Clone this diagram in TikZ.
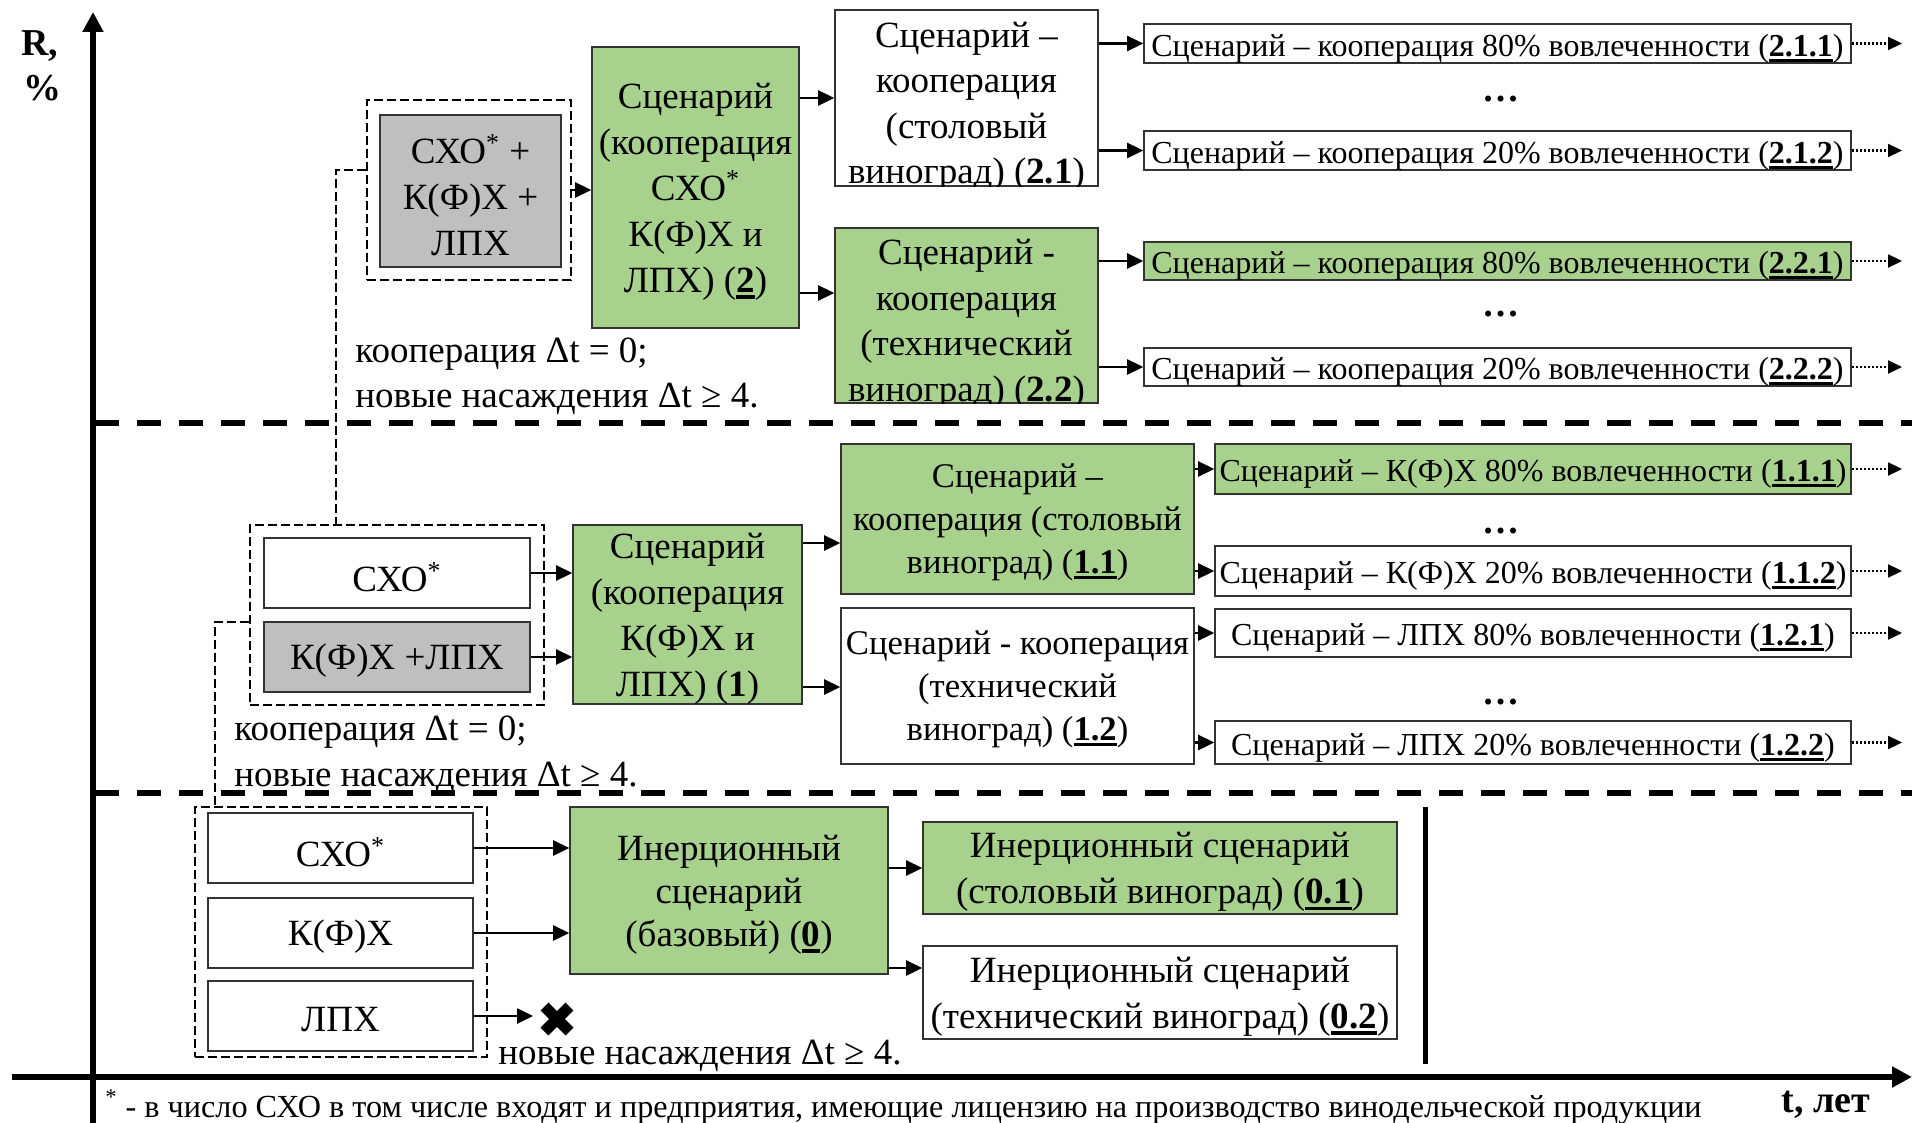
\documentclass[tikz,border=0pt]{standalone}
\usepackage{fontspec}
\setmainfont{Liberation Serif}
\usetikzlibrary{arrows.meta,calc}
\definecolor{gr}{HTML}{A9D18E}
\definecolor{gy}{HTML}{BFBFBF}
\newsavebox\bubox
\newcommand\bu[1]{{\sbox\bubox{\bfseries #1}\rlap{\raisebox{-0.17em}{\rule{\wd\bubox}{0.085em}}}\usebox\bubox}}
\newcommand\bx[6]{\node[#6, inner sep=0pt, minimum width={(#4-#2)*0.5pt}, minimum height={(#5-#3)*0.5pt}] (#1) at ({(#2+#4)/2},{(#3+#5)/2}) {};}
\tikzset{
  box/.style={draw=black!80, line width=0.8pt},
  wbox/.style={box, fill=white},
  gbox/.style={box, fill=gr},
  ybox/.style={box, fill=gy},
  dbox/.style={draw=black, line width=1.1pt, dash pattern=on 4.5pt off 2pt},
  dcon/.style={draw=black, line width=1.1pt, dash pattern=on 4.5pt off 2pt},
  sep/.style={draw=black, line width=3pt, dash pattern=on 12pt off 9pt},
  axis/.style={draw=black, line width=2.6pt, -{Triangle[length=10pt,width=10pt]}},
  arr/.style={draw=black, line width=1.3pt, -{Triangle[length=8pt,width=7.5pt]}},
  darr/.style={draw=black, line width=1.1pt, dash pattern=on 1pt off 1pt, -{Triangle[length=7pt,width=6.5pt]}},
  mtxt/.style={font=\fontsize{18.5}{23}\selectfont, align=center, inner sep=0pt, yshift=-2pt},
  ctxt/.style={font=\fontsize{18.5}{22.75}\selectfont, align=center, inner sep=0pt},
  ntxt/.style={font=\fontsize{17.3}{21.5}\selectfont, align=center, inner sep=0pt, yshift=-1.5pt},
  rtxt/.style={font=\fontsize{16}{19}\selectfont, inner sep=0pt, yshift=-2.5pt},
  atxt/.style={font=\fontsize{18.5}{22.5}\selectfont, align=left, inner sep=0pt, anchor=west, yshift=-2pt},
  btxt/.style={font=\fontsize{19}{21}\selectfont\bfseries, inner sep=0pt, anchor=west},
  dots/.style={font=\fontsize{18.5}{22}\selectfont\bfseries, inner sep=0pt, yshift=-2.5pt},
}
\begin{document}
\begin{tikzpicture}[x=0.5pt,y=-0.5pt]
\useasboundingbox (0,0) rectangle (1912,1123);
% separators
\draw[sep] (95,423) -- (1912,423);
\draw[sep] (95,793) -- (1912,793);
% axes
\draw[axis] (93,1123) -- (93,12);
\draw[axis] (12,1077) -- (1912,1077);
\node[btxt] (Rl) at (21,46) {R,};
\node[btxt] (Pl) at (23,88) {\%};
\node[btxt] (tl) at (1781,1105) {t, лет};
% ---------- top group
\bx{D2}{367}{100}{571}{280}{dbox}
\bx{G2}{380}{115}{561}{267}{ybox}
\node[mtxt] (G2t) at (G2) {СХО\textsuperscript{*} +\\К(Ф)Х +\\ЛПХ};
\bx{B2}{592}{47}{799}{328}{gbox}
\node[mtxt] (B2t) at (B2) {Сценарий\\(кооперация\\СХО\textsuperscript{*}\\К(Ф)Х и\\ЛПХ) (\bu{2})};
\bx{S21}{835}{10}{1098}{186}{wbox}
\begin{scope}
\clip (S21.south west) rectangle (S21.north east);
\node[ctxt] (S21t) at ([yshift=-4.5pt]S21.center) {Сценарий –\\кооперация\\(столовый\\виноград) (\textbf{2.1})};
\end{scope}
\bx{S22}{835}{228}{1098}{403}{gbox}
\begin{scope}
\clip (S22.south west) rectangle (S22.north east);
\node[ctxt] (S22t) at ([yshift=-4.5pt]S22.center) {Сценарий -\\кооперация\\(технический\\виноград) (\textbf{2.2})};
\end{scope}
\bx{R211}{1144}{24}{1851}{63}{wbox}
\node[rtxt] (R211t) at (R211) {Сценарий – кооперация 80\% вовлеченности (\bu{2.1.1})};
\bx{R212}{1144}{131}{1851}{170}{wbox}
\node[rtxt] (R212t) at (R212) {Сценарий – кооперация 20\% вовлеченности (\bu{2.1.2})};
\bx{R221}{1144}{242}{1851}{280}{gbox}
\node[rtxt] (R221t) at (R221) {Сценарий – кооперация 80\% вовлеченности (\bu{2.2.1})};
\bx{R222}{1144}{348}{1851}{386}{wbox}
\node[rtxt] (R222t) at (R222) {Сценарий – кооперация 20\% вовлеченности (\bu{2.2.2})};
\node[dots] (dt1) at (1501,94) {…};
\node[dots] (dt2) at (1501,309) {…};
\node[atxt] (n2) at (355,372) {кооперация Δt = 0;\\новые насаждения Δt ≥ 4.};
% ---------- middle group
\bx{D1}{250}{525}{544}{705}{dbox}
\bx{C1}{264}{538}{530}{608}{wbox}
\node[mtxt] (C1t) at (C1) {СХО\textsuperscript{*}};
\bx{K1}{264}{622}{530}{692}{ybox}
\node[mtxt] (K1t) at (K1) {К(Ф)Х +ЛПХ};
\bx{B1}{573}{525}{802}{704}{gbox}
\node[mtxt] (B1t) at (B1) {Сценарий\\(кооперация\\К(Ф)Х и\\ЛПХ) (\textbf{1})};
\bx{S11}{841}{444}{1194}{594}{gbox}
\node[ntxt] (S11t) at (S11) {Сценарий –\\кооперация (столовый\\виноград) (\bu{1.1})};
\bx{S12}{841}{608}{1194}{764}{wbox}
\node[ntxt] (S12t) at (S12) {Сценарий - кооперация\\(технический\\виноград) (\bu{1.2})};
\bx{R111}{1215}{444}{1851}{494}{gbox}
\node[rtxt] (R111t) at (R111) {Сценарий – К(Ф)Х 80\% вовлеченности (\bu{1.1.1})};
\bx{R112}{1215}{546}{1851}{596}{wbox}
\node[rtxt] (R112t) at (R112) {Сценарий – К(Ф)Х 20\% вовлеченности (\bu{1.1.2})};
\bx{R121}{1215}{609}{1851}{657}{wbox}
\node[rtxt] (R121t) at (R121) {Сценарий – ЛПХ 80\% вовлеченности (\bu{1.2.1})};
\bx{R122}{1215}{721}{1851}{764}{wbox}
\node[rtxt] (R122t) at (R122) {Сценарий – ЛПХ 20\% вовлеченности (\bu{1.2.2})};
\node[dots] (dt3) at (1501,526) {…};
\node[dots] (dt4) at (1501,697) {…};
\node[atxt, font=\fontsize{18.5}{23}\selectfont] (n1) at (234,751) {кооперация Δt = 0;\\новые насаждения Δt ≥ 4.};
% ---------- bottom group
\bx{D0}{195}{807}{487}{1057}{dbox}
\bx{C0}{208}{813}{473}{883}{wbox}
\node[mtxt] (C0t) at (C0) {СХО\textsuperscript{*}};
\bx{K0}{208}{898}{473}{968}{wbox}
\node[mtxt] (K0t) at (K0) {К(Ф)Х};
\bx{L0}{208}{981}{473}{1051}{wbox}
\node[mtxt] (L0t) at (L0) {ЛПХ};
\bx{B0}{570}{807}{888}{974}{gbox}
\node[mtxt, font=\fontsize{18.5}{21.5}\selectfont] (B0t) at (B0) {Инерционный\\сценарий\\(базовый) (\bu{0})};
\bx{S01}{923}{822}{1397}{914}{gbox}
\node[mtxt] (S01t) at (S01) {Инерционный сценарий\\(столовый виноград) (\bu{0.1})};
\bx{S02}{923}{946}{1397}{1039}{wbox}
\node[mtxt] (S02t) at (S02) {Инерционный сценарий\\(технический виноград) (\bu{0.2})};
\node[atxt] (n0) at (498,1052) {новые насаждения Δt ≥ 4.};
\coordinate (X) at (557,1019);
\coordinate (Xt) at (533,1019);
\draw[line width=5.5pt] ($(X)+(-12.5,-12.5)$) -- ($(X)+(12.5,12.5)$);
\draw[line width=5.5pt] ($(X)+(-12.5,12.5)$) -- ($(X)+(12.5,-12.5)$);
\draw[line width=2.5pt] (1425,807) -- (1425,1064);
% footnote
\node[font=\fontsize{16.1}{20}\selectfont, inner sep=0pt, anchor=west] (fn) at (105,1107) {\textsuperscript{*} - в число СХО в том числе входят и предприятия, имеющие лицензию на производство винодельческой продукции};
% ---------- connectors
\coordinate (j2) at (336,170);
\draw[dcon] (D2.west |- j2) -- (j2) -- (j2 |- D1.north);
\coordinate (j1) at (215,622);
\draw[dcon] (D1.west |- j1) -- (j1) -- (j1 |- D0.north);
\coordinate (ex) at (1902,0);
\draw[arr] (D2.east) -- (D2.east -| B2.west);
\draw[arr] (B2.east |- S21.west) -- (S21.west);
\coordinate (a22) at (0,293);
\draw[arr] (B2.east |- a22) -- (S22.west |- a22);
\draw[arr] (S21.east |- R211.west) -- (R211.west);
\draw[arr] (S21.east |- R212.west) -- (R212.west);
\draw[arr] (S22.east |- R221.west) -- (R221.west);
\draw[arr] (S22.east |- R222.west) -- (R222.west);
\foreach \r in {R211,R212,R221,R222,R111,R112,R121,R122}
  \draw[darr] (\r.east) -- (\r.east -| ex);
\draw[arr] (C1.east) -- (C1.east -| B1.west);
\draw[arr] (K1.east) -- (K1.east -| B1.west);
\coordinate (a11) at (0,543);
\coordinate (a12) at (0,687);
\draw[arr] (B1.east |- a11) -- (S11.west |- a11);
\draw[arr] (B1.east |- a12) -- (S12.west |- a12);
\draw[arr] (S11.east |- R111.west) -- (R111.west);
\draw[arr] (S11.east |- R112.west) -- (R112.west);
\draw[arr] (S12.east |- R121.west) -- (R121.west);
\draw[arr] (S12.east |- R122.west) -- (R122.west);
\draw[arr] (C0.east) -- (C0.east -| B0.west);
\draw[arr] (K0.east) -- (K0.east -| B0.west);
\draw[arr] (L0.east) -- (L0.east -| Xt);
\draw[arr] (B0.east |- S01.west) -- (S01.west);
\coordinate (a02) at (0,968);
\draw[arr] (B0.east |- a02) -- (S02.west |- a02);
\end{tikzpicture}
\end{document}
